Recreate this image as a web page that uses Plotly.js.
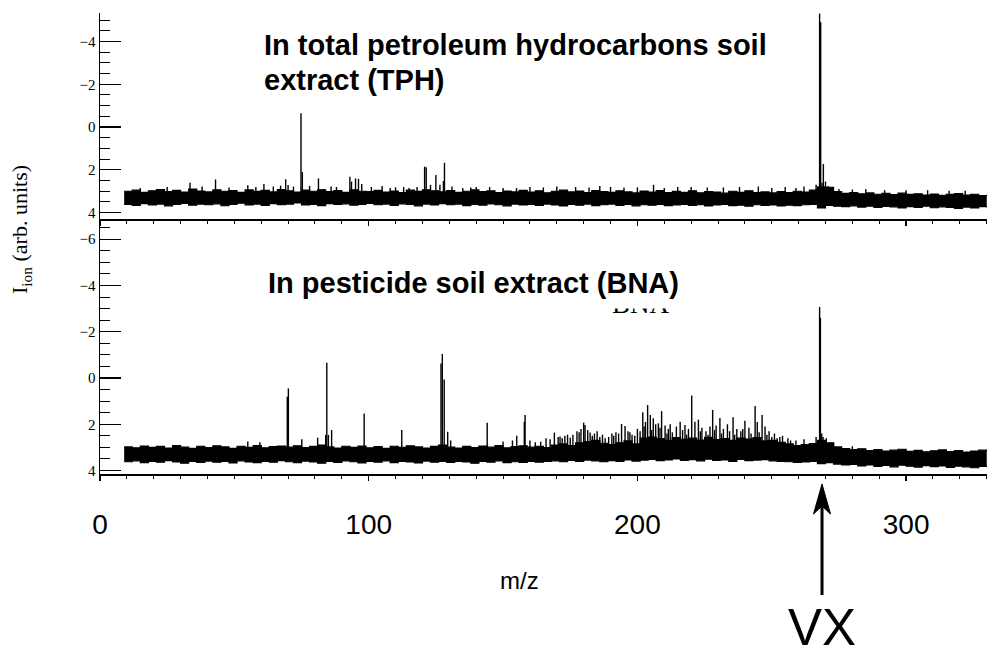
<!DOCTYPE html>
<html>
<head>
<meta charset="utf-8">
<script src="https://cdn.plot.ly/plotly-3.0.1.min.js"></script>
<style>html,body{margin:0;padding:0;background:#fff;}</style>
</head>
<body>
<div id="chart" style="width:987px;height:649px;"></div>
<script>
// ---- m/z sample positions for the noise band (read every 3 m/z) ----
const bandMz = [9,12,15,18,21,24,27,30,33,36,39,42,45,48,51,54,57,60,63,66,69,72,75,78,81,84,87,90,93,96,99,102,105,108,111,114,117,120,123,126,129,132,135,138,141,144,147,150,153,156,159,162,165,168,171,174,177,180,183,186,189,192,195,198,201,204,207,210,213,216,219,222,225,228,231,234,237,240,243,246,249,252,255,258,261,264,267,270,273,276,279,282,285,288,291,294,297,300,303,306,309,312,315,318,321,324,327,330];

// ---- TPH panel: noise band upper / lower edge ----
const tphUpper = [3.00,2.95,3.05,2.98,2.92,3.02,2.96,3.04,2.90,2.99,
  3.03,2.93,3.00,2.97,3.05,2.94,3.01,2.96,3.03,2.92,
  2.98,3.04,2.95,3.00,2.93,3.02,2.97,3.05,2.94,3.00,
  3.02,2.96,3.04,2.99,3.06,2.95,3.01,2.93,2.98,3.03,
  2.97,3.05,3.00,2.94,3.02,2.98,3.06,2.99,3.03,2.96,
  3.04,2.98,3.07,3.00,2.95,3.03,2.99,3.06,2.97,3.02,
  3.05,2.98,3.03,3.08,2.99,3.04,2.97,3.06,3.01,3.05,
  2.98,3.07,3.02,3.04,3.09,3.00,3.05,2.98,3.06,3.03,
  3.08,3.02,3.06,3.00,3.04,2.95,2.80,2.82,3.02,3.10,
  3.06,3.12,3.08,3.14,3.10,3.16,3.09,3.15,3.12,3.18,
  3.13,3.19,3.15,3.11,3.18,3.14,3.20,3.16];
const tphLower = [3.62,3.66,3.58,3.64,3.60,3.68,3.61,3.57,3.65,3.60,
  3.63,3.59,3.67,3.61,3.56,3.64,3.60,3.66,3.58,3.63,
  3.60,3.55,3.64,3.61,3.67,3.58,3.62,3.59,3.65,3.61,
  3.57,3.63,3.60,3.66,3.59,3.62,3.68,3.60,3.64,3.58,
  3.63,3.60,3.67,3.61,3.65,3.59,3.63,3.68,3.60,3.64,
  3.61,3.66,3.60,3.64,3.69,3.62,3.65,3.60,3.67,3.63,
  3.60,3.66,3.62,3.68,3.63,3.65,3.61,3.67,3.64,3.62,
  3.66,3.63,3.69,3.64,3.61,3.67,3.65,3.70,3.63,3.66,
  3.64,3.69,3.65,3.67,3.63,3.62,3.78,3.66,3.70,3.72,
  3.68,3.74,3.70,3.76,3.71,3.73,3.78,3.72,3.75,3.70,
  3.77,3.73,3.76,3.80,3.74,3.78,3.72,3.76];

// ---- TPH panel: peaks (m/z, peak level) ----
const tphPeakMz = [15,25,33.5,38,43,48,55,58,61,64.5,67.2,69.1,70,72,74.8,75.3,78,81.3,83.1,86,88,93.0,93.6,95.1,96.2,97.4,101,105,108,110,113,115,118,120.8,121.4,123,125,126.5,127.8,128.2,131,135,138,140,145,150,155,160,165,170,177,182,186,190,195,200,206,210,215,220,226,232,238,245,250,255,259,262,266.5,267.8,268.2,268.7,269.2,270,271,275,280,285,292,300,308,316,322];
const tphPeakVal = [2.85,2.80,2.60,2.78,2.45,2.82,2.72,2.80,2.66,2.78,2.74,2.44,2.71,2.78,-0.64,2.10,2.75,2.40,2.90,2.78,2.80,2.32,2.55,2.40,2.42,2.66,2.80,2.75,2.85,2.82,2.80,2.85,2.80,1.85,1.88,2.70,2.24,2.70,2.52,1.67,2.78,2.85,2.82,2.80,2.80,2.85,2.85,2.80,2.82,2.78,2.80,2.82,2.76,2.80,2.82,2.82,2.70,2.85,2.80,2.80,2.82,2.82,2.80,2.78,2.85,2.80,2.85,2.78,2.70,-5.30,-4.90,2.60,1.73,2.55,2.75,2.90,2.92,2.90,2.95,2.95,2.95,2.98,2.98];

// ---- BNA panel: noise band upper / lower edge ----
const bnaUpper = [2.98,3.02,2.94,3.00,2.96,3.03,2.92,2.99,3.04,2.95,
  3.01,2.93,2.98,3.04,2.95,3.00,2.92,3.02,2.97,2.94,
  2.99,2.93,3.01,2.96,2.90,2.98,3.03,2.95,3.00,2.94,
  3.02,2.97,3.04,2.95,3.00,2.93,2.98,3.03,2.96,2.90,
  2.99,3.03,2.96,3.01,2.94,2.99,2.92,3.02,2.97,2.93,
  2.99,2.95,3.01,2.90,2.85,2.92,2.80,2.75,2.70,2.82,
  2.88,2.80,2.72,2.85,2.60,2.55,2.62,2.70,2.58,2.65,
  2.60,2.68,2.57,2.66,2.62,2.70,2.60,2.64,2.58,2.72,
  2.70,2.78,2.85,2.92,2.88,2.84,2.70,2.80,2.98,3.05,
  3.10,3.06,3.14,3.09,3.16,3.12,3.08,3.17,3.13,3.19,
  3.15,3.11,3.18,3.14,3.20,3.16,3.12,3.18];
const bnaLower = [3.62,3.58,3.66,3.60,3.64,3.57,3.63,3.68,3.60,3.65,
  3.59,3.64,3.61,3.67,3.58,3.63,3.66,3.60,3.64,3.57,
  3.62,3.66,3.59,3.63,3.68,3.60,3.65,3.58,3.62,3.67,
  3.61,3.64,3.58,3.66,3.60,3.63,3.67,3.59,3.64,3.61,
  3.65,3.60,3.63,3.68,3.61,3.64,3.58,3.66,3.62,3.65,
  3.60,3.64,3.61,3.58,3.62,3.56,3.60,3.55,3.58,3.62,
  3.57,3.60,3.54,3.59,3.55,3.52,3.57,3.54,3.50,3.56,
  3.53,3.58,3.51,3.56,3.54,3.60,3.52,3.57,3.55,3.53,
  3.58,3.60,3.62,3.65,3.63,3.60,3.70,3.66,3.72,3.76,
  3.74,3.80,3.76,3.82,3.78,3.84,3.77,3.81,3.85,3.79,
  3.83,3.80,3.86,3.81,3.84,3.88,3.82,3.85];

// ---- BNA panel: peaks (m/z, peak level) ----
const bnaPeakMz = [55,59.5,69.7,70.1,75.1,81.0,84.0,84.4,85.0,86.2,98.3,112.3,126.9,127.4,128.1,129.4,130.5,144.1,150,153.5,155.1,157.9,158.2,160,162,164,166,167.5,169.1,170.5,171.2,172,173,174,175,176,177.5,178.3,179,180,180.5,181.5,182.4,183.2,184,185,186,187,188,189.3,190.5,191.2,192,193,194.1,195.4,196.5,197.2,198,199,200,201,202,202.5,203,203.8,204.8,205.3,205.9,206.8,207.8,208.4,209,210.3,211,211.5,212.2,213,214.5,215.9,216.8,217.7,218.3,219,220.2,221.4,222.7,223.4,224,225.5,226.3,227,228,228.7,229.3,230.7,231.3,232,233.5,234.3,235.6,236.2,237,238.5,239.2,240,241.5,242.3,243.8,244.6,245.3,246.4,247.5,248.2,249,250,251,252,253,254,256,257,259,262,266.5,267.8,268.1,268.6,269.1,270.3,273,280];
const bnaPeakVal = [2.75,2.78,0.81,0.45,2.65,2.58,2.46,-0.66,2.46,2.25,1.53,2.25,-0.63,-1.04,0.06,2.32,2.70,1.93,2.75,2.70,2.50,1.89,1.60,2.70,2.78,2.75,2.60,2.65,2.36,2.55,2.53,2.60,2.50,2.45,2.58,2.45,2.30,2.35,2.20,1.93,2.03,2.25,2.36,2.50,2.40,2.30,2.55,2.45,2.60,2.55,2.40,2.50,2.35,2.40,1.99,2.07,2.30,2.35,2.45,2.50,2.20,2.30,1.48,2.10,1.90,1.17,1.60,2.25,1.74,2.00,1.96,2.15,1.43,2.05,2.40,2.20,2.00,2.35,2.10,1.89,2.25,2.03,2.45,2.20,0.76,1.89,1.80,2.30,2.15,2.30,2.45,2.10,1.38,2.25,2.05,1.73,2.40,2.20,2.00,2.30,1.70,2.45,2.20,2.30,2.20,1.85,2.15,2.40,1.21,1.90,2.35,1.60,2.10,2.45,2.30,2.55,2.40,2.60,2.55,2.50,2.60,2.70,2.70,2.65,2.55,-3.07,-2.60,2.40,2.55,2.60,2.80,2.95];

// ---- axis tick values ----
const xTickVals = [0,100,200,300];
const xTickText = ['0','100','200','300'];
const tphTickVals = [-4,-2,0,2,4];
const bnaTickVals = [-6,-4,-2,0,2,4];

const spikeBase = 3.2;
const VX_X = 0.814; // paper x of the VX arrow

function spikes(mz, val) {
  const xs = [], ys = [];
  for (let i = 0; i < mz.length; i++) {
    xs.push(mz[i], mz[i], null);
    ys.push(spikeBase, val[i], null);
  }
  return {x: xs, y: ys};
}

const ink = '#000';
const tphS = spikes(tphPeakMz, tphPeakVal);
const bnaS = spikes(bnaPeakMz, bnaPeakVal);

const edge = {color: ink, width: 1.2, shape: 'hv'};
const data = [
  {x: bandMz, y: tphUpper, xaxis: 'x2', yaxis: 'y2', type: 'scatter', mode: 'lines', line: edge, hoverinfo: 'skip'},
  {x: bandMz, y: tphLower, xaxis: 'x2', yaxis: 'y2', type: 'scatter', mode: 'lines', fill: 'tonexty', fillcolor: ink, line: edge, hoverinfo: 'skip'},
  {x: tphS.x, y: tphS.y, xaxis: 'x2', yaxis: 'y2', type: 'scatter', mode: 'lines', line: {color: ink, width: 1.4}, connectgaps: false, hoverinfo: 'skip'},
  {x: bandMz, y: bnaUpper, xaxis: 'x', yaxis: 'y', type: 'scatter', mode: 'lines', line: edge, hoverinfo: 'skip'},
  {x: bandMz, y: bnaLower, xaxis: 'x', yaxis: 'y', type: 'scatter', mode: 'lines', fill: 'tonexty', fillcolor: ink, line: edge, hoverinfo: 'skip'},
  {x: bnaS.x, y: bnaS.y, xaxis: 'x', yaxis: 'y', type: 'scatter', mode: 'lines', line: {color: ink, width: 1.4}, connectgaps: false, hoverinfo: 'skip'}
];

const serif = 'Liberation Serif, Times New Roman, serif';
const sans = 'Liberation Sans, Arial, sans-serif';

const xCommon = {
  range: [0, 330.1], tickvals: xTickVals, ticktext: xTickText,
  ticks: 'outside', ticklen: 5, tickwidth: 1.5, tickcolor: ink,
  showline: true, linecolor: ink, linewidth: 1.5,
  showgrid: false, zeroline: false,
  minor: {dtick: 10, tick0: 0, ticks: 'outside', ticklen: 3, tickwidth: 1, tickcolor: ink, showgrid: false}
};
const yCommon = {
  tick0: 0, dtick: 2, ticks: 'inside', ticklen: 21, tickwidth: 1.2, tickcolor: ink,
  showline: true, linecolor: ink, linewidth: 1.5,
  showgrid: false, zeroline: false,
  tickfont: {family: serif, size: 15, color: ink},
  minor: {dtick: 0.5, tick0: 0, ticks: 'inside', ticklen: 10, tickwidth: 1, tickcolor: ink, showgrid: false}
};

const pY = px => (474 - px) / 461;
const pX = px => (px - 100) / 887;

const layout = {
  width: 987, height: 649,
  margin: {l: 100, r: 0, t: 13, b: 175},
  paper_bgcolor: '#fff', plot_bgcolor: 'rgba(0,0,0,0)',
  showlegend: false,
  xaxis: Object.assign({}, xCommon, {domain: [0, 1], anchor: 'y',
    tickfont: {family: sans, size: 28, color: ink}, ticklabelstandoff: 20}),
  yaxis: Object.assign({}, yCommon, {domain: [0, 0.553], anchor: 'x', range: [4.15, -6.87], tickvals: bnaTickVals}),
  xaxis2: Object.assign({}, xCommon, {domain: [0, 1], anchor: 'y2', matches: 'x', showticklabels: false}),
  yaxis2: Object.assign({}, yCommon, {domain: [0.553, 1], anchor: 'x2', range: [4.30, -5.33], tickvals: tphTickVals}),
  shapes: [
    {type: 'line', xref: 'paper', yref: 'paper', x0: VX_X, x1: VX_X, y0: pY(595), y1: pY(505), line: {color: ink, width: 3}},
    {type: 'path', xref: 'paper', yref: 'paper', xsizemode: 'pixel', ysizemode: 'pixel', xanchor: VX_X, yanchor: pY(484),
     path: 'M0,0 L-8.5,-30 L0,-22 L8.5,-30 Z', fillcolor: ink, line: {color: ink, width: 1}}
  ],
  annotations: [
    {xref: 'paper', yref: 'paper', x: pX(641), y: pY(304), text: 'BNA', showarrow: false,
     font: {family: serif, size: 27, color: ink}, xanchor: 'center', yanchor: 'middle'},
    {xref: 'paper', yref: 'paper', x: pX(258), y: pY(283), text: '<b>In pesticide soil extract (BNA)</b>', showarrow: false,
     font: {family: sans, size: 29, color: ink}, xanchor: 'left', yanchor: 'middle', bgcolor: '#fff', borderpad: 9},
    {xref: 'paper', yref: 'paper', x: pX(262), y: pY(45), text: '<b>In total petroleum hydrocarbons soil</b>', showarrow: false,
     font: {family: sans, size: 29, color: ink}, xanchor: 'left', yanchor: 'middle'},
    {xref: 'paper', yref: 'paper', x: pX(262), y: pY(80), text: '<b>extract (TPH)</b>', showarrow: false,
     font: {family: sans, size: 29, color: ink}, xanchor: 'left', yanchor: 'middle'},
    {xref: 'paper', yref: 'paper', x: pX(21), y: pY(230), text: 'I<sub>ion</sub> (arb. units)', showarrow: false, textangle: -90,
     font: {family: serif, size: 22, color: ink}, xanchor: 'center', yanchor: 'middle'},
    {xref: 'paper', yref: 'paper', x: pX(519), y: pY(580), text: 'm/z', showarrow: false,
     font: {family: sans, size: 24, color: ink}, xanchor: 'center', yanchor: 'middle'},
    {xref: 'paper', yref: 'paper', x: VX_X, y: pY(627), text: 'VX', showarrow: false, height: 38,
     font: {family: sans, size: 51, color: ink}, xanchor: 'center', yanchor: 'middle'}
  ]
};

Plotly.newPlot('chart', data, layout, {staticPlot: true, displayModeBar: false});
</script>
</body>
</html>
